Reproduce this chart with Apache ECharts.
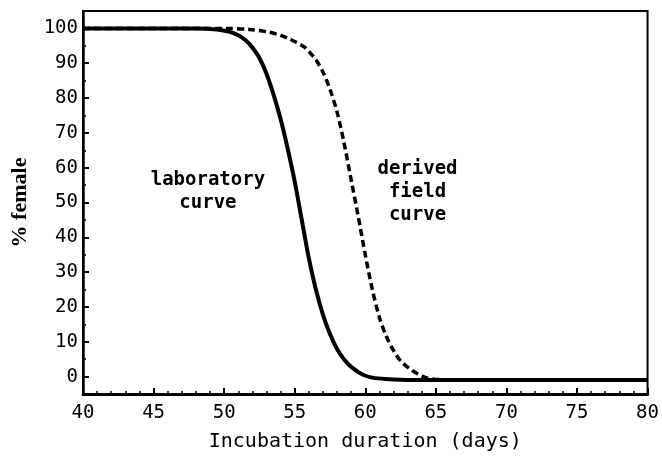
<!DOCTYPE html>
<html>
<head>
<meta charset="utf-8">
<script src="https://cdn.jsdelivr.net/npm/echarts@6/dist/echarts.min.js"></script>
<style>
html,body{margin:0;padding:0;background:#fff;}
#c{width:662px;height:459px;}
</style>
</head>
<body>
<div id="c"></div>
<script>
// Data
var yTicks = [0, 10, 20, 30, 40, 50, 60, 70, 80, 90, 100];
var yMinorTicks = [5, 15, 25, 35, 45, 55, 65, 75, 85, 95];

var labDays   = [40, 48, 49.5, 50.4, 51, 51.6, 52, 52.5, 53, 53.5, 54, 54.5, 55, 55.5, 56, 56.5, 57, 57.5, 58, 58.5, 59, 59.8, 60.5, 61.45, 63.3, 80];
var labFemale = [100, 100, 99.7, 99.0, 98, 96.3, 94.5, 91.5, 87, 81, 74, 65.5, 56, 45, 34, 25, 17.8, 12.2, 7.9, 4.9, 2.8, 0.6, -0.3, -0.7, -1, -1];

var fieldDays   = [40, 50, 51.8, 53.2, 54, 54.6, 55.2, 55.7, 56.2, 56.5, 57, 57.5, 58, 58.5, 59, 59.5, 60, 60.5, 61, 61.5, 62, 62.5, 63.1, 63.7, 64.3, 65, 66.6, 80];
var fieldFemale = [100, 100, 99.7, 98.9, 98, 97.0, 95.8, 94.6, 92.5, 91, 87.5, 82.5, 76, 67, 56.5, 46, 35, 25, 17, 11.5, 7.5, 4.5, 2.4, 0.8, -0.3, -0.8, -1, -1];

var labLabel = ['laboratory', 'curve'];
var fieldLabel = ['derived', 'field', 'curve'];
var labLabelAt = [48.85, 53];
var fieldLabelAt = [63.7, 53];

function pairs(xs, ys) { return xs.map(function (x, i) { return [x, ys[i]]; }); }

var chart = echarts.init(document.getElementById('c'), null, {renderer: 'canvas'});
var mono = 'DejaVu Sans Mono';
chart.setOption({
  animation: false,
  backgroundColor: '#fff',
  grid: {left: 83, right: 12, top: 11, bottom: 65, show: true, borderColor: '#000', borderWidth: 2, backgroundColor: 'transparent'},
  xAxis: {
    type: 'value', min: 40, max: 80, interval: 5,
    name: 'Incubation duration (days)', nameLocation: 'middle', nameGap: 38,
    nameTextStyle: {fontFamily: mono, fontSize: 20, color: '#000'},
    axisLine: {show: true, onZero: false, lineStyle: {color: '#000', width: 3}},
    axisTick: {show: true, inside: true, length: 6, lineStyle: {color: '#000', width: 2}},
    minorTick: {show: true, splitNumber: 5, length: 3, lineStyle: {color: '#000', width: 1.5}},
    axisLabel: {fontFamily: mono, fontSize: 19, color: '#000', margin: 10},
    splitLine: {show: false}
  },
  yAxis: [{
    type: 'value', min: -5, max: 105,
    name: '% female', nameLocation: 'middle', nameGap: 52, nameRotate: 90,
    nameTextStyle: {fontFamily: 'Liberation Serif', fontWeight: 'bold', fontSize: 22, color: '#000'},
    axisLine: {show: true, lineStyle: {color: '#000', width: 2.5}},
    axisTick: {show: true, inside: true, length: 6, customValues: yTicks, lineStyle: {color: '#000', width: 2}},
    axisLabel: {fontFamily: mono, fontSize: 19, color: '#000', margin: 5, customValues: yTicks},
    splitLine: {show: false}
  }, {
    type: 'value', min: -5, max: 105, position: 'left', offset: 0,
    axisLine: {show: false},
    axisTick: {show: true, inside: true, length: 3, customValues: yMinorTicks, lineStyle: {color: '#000', width: 1.5}},
    axisLabel: {show: false},
    splitLine: {show: false}
  }],
  series: [{
    type: 'line', name: 'derived field curve', data: pairs(fieldDays, fieldFemale),
    smooth: 0.3, showSymbol: false, symbol: 'none',
    lineStyle: {color: '#000', width: 3.5, type: [7, 4]}
  }, {
    type: 'line', name: 'laboratory curve', data: pairs(labDays, labFemale),
    smooth: 0.3, showSymbol: false, symbol: 'none',
    lineStyle: {color: '#000', width: 4}
  }]
});

function addLabels() {
  var p1 = chart.convertToPixel({gridIndex: 0}, labLabelAt);
  var p2 = chart.convertToPixel({gridIndex: 0}, fieldLabelAt);
  var style = {fontFamily: mono, fontSize: 19, fontWeight: 'bold', fill: '#000', align: 'center', verticalAlign: 'middle', lineHeight: 23};
  chart.setOption({graphic: [
    {type: 'text', x: p1[0], y: p1[1], style: Object.assign({text: labLabel.join('\n')}, style)},
    {type: 'text', x: p2[0], y: p2[1], style: Object.assign({text: fieldLabel.join('\n')}, style)}
  ]});
}
addLabels();
</script>
</body>
</html>
